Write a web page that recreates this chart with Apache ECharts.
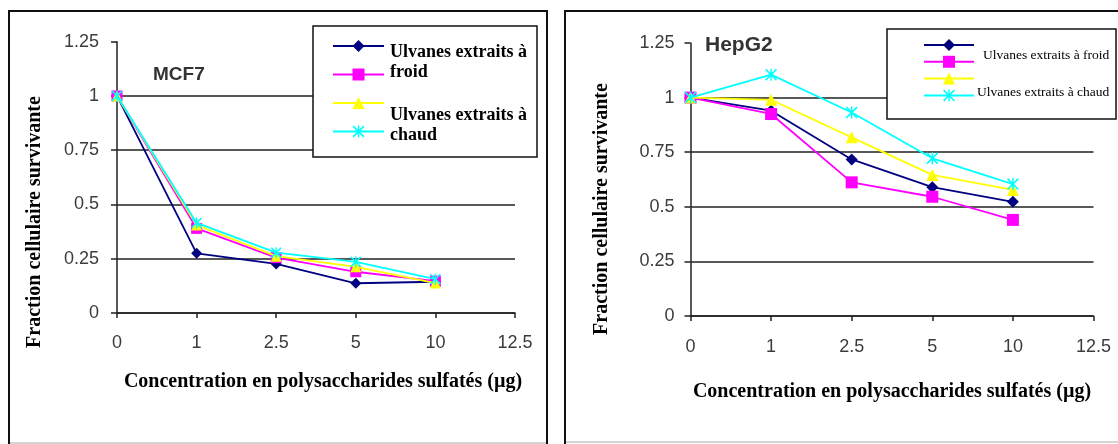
<!DOCTYPE html>
<html>
<head>
<meta charset="utf-8">
<script src="https://cdn.jsdelivr.net/npm/echarts@6/dist/echarts.min.js"></script>
<style>
html,body{margin:0;padding:0;background:#ffffff;}
#c{width:1118px;height:444px;}
</style>
</head>
<body>
<div id="c"></div>
<script>
// ---- data ----
const categories = ['0', '1', '2.5', '5', '10', '12.5'];
const seriesNames = ['Ulvanes extraits à froid (a)', 'Ulvanes extraits à froid (b)', 'Ulvanes extraits à chaud (a)', 'Ulvanes extraits à chaud (b)'];
const panelTitles = ['MCF7', 'HepG2'];
const yAxisTitle = 'Fraction cellulaire survivante';
const xAxisTitle = 'Concentration en polysaccharides sulfatés (µg)';
const legendTextsLeft = ['Ulvanes extraits à', 'froid', 'Ulvanes extraits à', 'chaud'];
const legendTextsRight = ['Ulvanes extraits à froid', 'Ulvanes extraits à chaud'];
const yMin = 0, yMax = 1.25, yStep = 0.25;

const mcf7Navy    = [1.00, 0.275, 0.226, 0.137, 0.144];
const mcf7Magenta = [1.00, 0.390, 0.255, 0.190, 0.147];
const mcf7Yellow  = [1.00, 0.405, 0.262, 0.213, 0.138];
const mcf7Cyan    = [1.00, 0.415, 0.278, 0.236, 0.156];

const hepNavy    = [1.00, 0.940, 0.717, 0.590, 0.523];
const hepMagenta = [1.00, 0.925, 0.612, 0.546, 0.440];
const hepYellow  = [1.00, 0.990, 0.818, 0.646, 0.577];
const hepCyan    = [1.00, 1.105, 0.932, 0.722, 0.604];

// ---- styles ----
const colors = ['#000080', '#ff00ff', '#ffff00', '#00ffff'];
const starPath = 'path://M0,1 L1,0 L5,4 L9,0 L10,1 L6,5 L10,9 L9,10 L5,6 L1,10 L0,9 L4,5 Z M4.4,0 L5.6,0 L5.6,10 L4.4,10 Z';
const symbols = ['diamond', 'rect', 'triangle', starPath];
const axisColor = '#222';
const labelColor = '#3c3c3c';
const serif = '"Liberation Serif", "Times New Roman", serif';
const sans = '"Liberation Sans", Arial, sans-serif';

function xAxisCfg(gridIndex, margin) {
  return {
    type: 'category', gridIndex: gridIndex, data: categories, boundaryGap: false,
    axisLine: {show: true, lineStyle: {color: axisColor, width: 1.5}},
    axisTick: {show: true, interval: 0, length: 5, lineStyle: {color: axisColor, width: 1.5}},
    axisLabel: {interval: 0, margin: margin, color: labelColor, fontSize: 18, fontFamily: sans},
    splitLine: {show: false}
  };
}
function yAxisCfg(gridIndex, margin) {
  return {
    type: 'value', gridIndex: gridIndex, min: yMin, max: yMax, interval: yStep,
    axisLine: {show: true, lineStyle: {color: axisColor, width: 1.5}},
    axisTick: {show: true, length: 6, lineStyle: {color: axisColor, width: 1.5}},
    axisLabel: {margin: margin, color: labelColor, fontSize: 18, fontFamily: sans},
    splitLine: {show: true, showMaxLine: false, lineStyle: {color: axisColor, width: 1.5}}
  };
}
function lineSeries(i, gridIndex, data, size) {
  return {
    type: 'line', name: seriesNames[i], xAxisIndex: gridIndex, yAxisIndex: gridIndex,
    data: data, symbol: symbols[i], symbolSize: size, showAllSymbol: true,
    lineStyle: {color: colors[i], width: 1.8},
    itemStyle: {color: colors[i], borderWidth: 0},
    z: 2 + i, animation: false
  };
}

const leftData = [mcf7Navy, mcf7Magenta, mcf7Yellow, mcf7Cyan];
const rightData = [hepNavy, hepMagenta, hepYellow, hepCyan];
const series = [];
leftData.forEach((d, i) => series.push(lineSeries(i, 0, d, 11)));
rightData.forEach((d, i) => series.push(lineSeries(i, 1, d, 12)));

function txt(x, y, text, font, align, extra, fill) {
  return Object.assign({
    type: 'text', x: x, y: y, z: 10,
    style: {text: text, font: font, fill: fill || '#000', textAlign: align || 'left', textVerticalAlign: 'middle'}
  }, extra || {});
}

const graphics = [
  {type: 'rect', z: 1, shape: {x: 9, y: 11, width: 538, height: 445}, style: {fill: 'none', stroke: '#111', lineWidth: 2}},
  {type: 'line', z: 1, shape: {x1: 10, y1: 443, x2: 546, y2: 443}, style: {stroke: '#aaa', lineWidth: 1}},
  {type: 'rect', z: 1, shape: {x: 565, y: 11, width: 560, height: 445}, style: {fill: 'none', stroke: '#111', lineWidth: 2}},
  {type: 'line', z: 1, shape: {x1: 566, y1: 442, x2: 1118, y2: 442}, style: {stroke: '#aaa', lineWidth: 1}},
  // legend boxes
  {type: 'rect', z: 5, shape: {x: 313, y: 26, width: 224, height: 131}, style: {fill: '#fff', stroke: '#111', lineWidth: 1.5}},
  {type: 'rect', z: 5, shape: {x: 887, y: 29, width: 229, height: 90}, style: {fill: '#fff', stroke: '#111', lineWidth: 1.5}},
  // titles
  txt(153, 75, panelTitles[0], 'bold 19px ' + sans, 'left', null, '#333'),
  txt(705, 45, panelTitles[1], 'bold 21px ' + sans, 'left', null, '#333'),
  // axis titles
  txt(323, 382, xAxisTitle, 'bold 20px ' + serif, 'center'),
  txt(892, 392, xAxisTitle, 'bold 20px ' + serif, 'center'),
  txt(35, 222, yAxisTitle, 'bold 20px ' + serif, 'center', {rotation: Math.PI / 2}),
  txt(602, 209, yAxisTitle, 'bold 20px ' + serif, 'center', {rotation: Math.PI / 2}),
  // legend labels
  txt(390, 52, legendTextsLeft[0], 'bold 18px ' + serif),
  txt(390, 72, legendTextsLeft[1], 'bold 18px ' + serif),
  txt(390, 115, legendTextsLeft[2], 'bold 18px ' + serif),
  txt(390, 135, legendTextsLeft[3], 'bold 18px ' + serif),
  txt(983, 55, legendTextsRight[0], '13.5px ' + serif),
  txt(977, 92, legendTextsRight[1], '13.5px ' + serif)
];

const option = {
  backgroundColor: '#ffffff',
  animation: false,
  grid: [
    {left: 117, top: 41.7, width: 398, height: 271.3},
    {left: 690.5, top: 43, width: 403, height: 273}
  ],
  xAxis: [xAxisCfg(0, 21), xAxisCfg(1, 22)],
  yAxis: [yAxisCfg(0, 18), yAxisCfg(1, 16)],
  legend: [
    {data: seriesNames, orient: 'vertical', left: 332, top: 38.5, padding: 0, itemWidth: 51, itemHeight: 15, itemGap: 15,
     selectedMode: false, formatter: () => '', textStyle: {fontSize: 6}, z: 6},
    {data: seriesNames, orient: 'vertical', left: 923, top: 37.5, padding: 0, itemWidth: 50, itemHeight: 15, itemGap: 3.3,
     selectedMode: false, formatter: () => '', textStyle: {fontSize: 6}, z: 6}
  ],
  graphic: {elements: graphics},
  series: series
};

const chart = echarts.init(document.getElementById('c'), null, {renderer: 'canvas'});
chart.setOption(option);
</script>
</body>
</html>
